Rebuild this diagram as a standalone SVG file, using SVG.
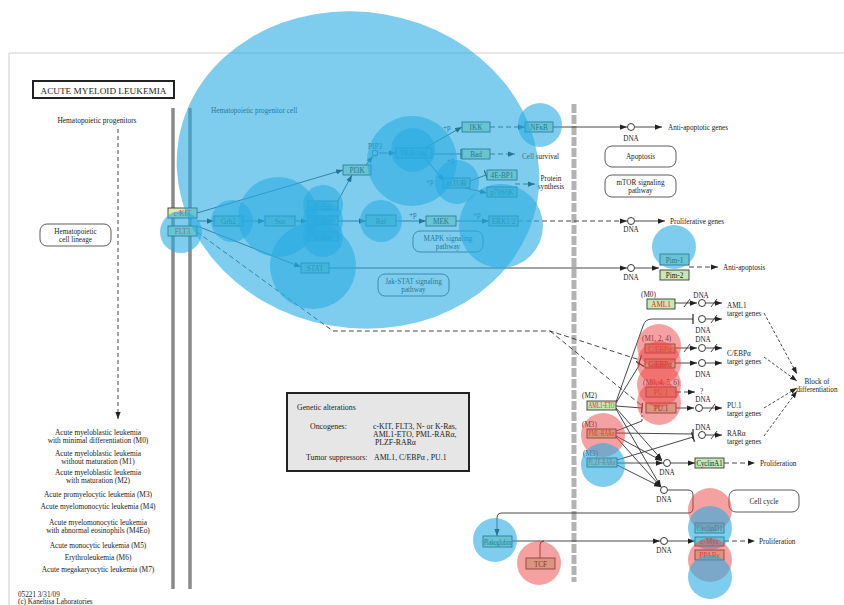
<svg xmlns="http://www.w3.org/2000/svg" width="844" height="605" viewBox="0 0 844 605">
<defs>
<style>
text{font-family:"Liberation Serif","Times New Roman",serif;font-size:7.2px;fill:#222}
.c{text-anchor:middle}
.r{fill:#e0261e}
.bx{fill:#c4e9b4;stroke:#3a3a3a;stroke-width:0.9}
.pw{fill:#fff;stroke:#333;stroke-width:0.8}
.ln{fill:none;stroke:#333;stroke-width:0.9}
.d{stroke-dasharray:5,3}
.dna{fill:#fff;stroke:#222;stroke-width:0.9}
.ob{fill:#29abe2;fill-opacity:0.6}
.or{fill:#ee4444;fill-opacity:0.5}
.mem{stroke:#8a8a8a;stroke-width:3.5}
.lt{font-size:7.4px}
.ga{font-size:7.8px}
</style>
<marker id="a" viewBox="0 0 8 6" refX="8" refY="3" markerWidth="7" markerHeight="5.5" orient="auto" markerUnits="userSpaceOnUse"><path d="M0,0L8,3L0,6z" fill="#222"/></marker>
<marker id="b" viewBox="0 0 2 10" refX="1" refY="5" markerWidth="2" markerHeight="10" orient="auto" markerUnits="userSpaceOnUse"><path d="M1,0V10" stroke="#222" stroke-width="1.2"/></marker>
</defs>
<rect width="844" height="605" fill="#fff"/>
<path d="M9,605V53H844" fill="none" stroke="#cfcfcf" stroke-width="1"/>

<g id="title"><rect x="33" y="81" width="141" height="17" fill="#fff" stroke="#222" stroke-width="2"/><text x="103.5" y="93.5" class="c" font-size="9.5" textLength="126" lengthAdjust="spacingAndGlyphs">ACUTE MYELOID LEUKEMIA</text></g>

<g id="membranes">
<line x1="173" y1="108" x2="173" y2="589" class="mem"/>
<line x1="190" y1="108" x2="190" y2="589" class="mem"/>
<line x1="574" y1="104" x2="574" y2="582" stroke="#b3b3b3" stroke-width="5" stroke-dasharray="9,2"/>
</g>

<g id="left-panel">
<text x="97" y="123" class="c lt">Hematopoietic progenitors</text>
<line x1="118" y1="129" x2="118" y2="419" class="ln" stroke-dasharray="4,3" marker-end="url(#a)"/>
<g id="n-lineage"><rect x="40" y="224" width="71" height="22" rx="7" class="pw"/><text x="75.5" y="234" class="c">Hematopoietic</text><text x="75.5" y="242" class="c">cell lineage</text></g>
<text x="98" y="434.5" class="c lt">Acute myeloblastic leukemia</text>
<text x="98" y="442.5" class="c lt">with minimal differentiation (M0)</text>
<text x="98" y="455.5" class="c lt">Acute myeloblastic leukemia</text>
<text x="98" y="463.5" class="c lt">without maturation (M1)</text>
<text x="98" y="474.5" class="c lt">Acute myeloblastic leukemia</text>
<text x="98" y="482.5" class="c lt">with maturation (M2)</text>
<text x="98" y="497" class="c lt">Acute promyelocytic leukemia (M3)</text>
<text x="98" y="509" class="c lt">Acute myelomonocytic leukemia (M4)</text>
<text x="98" y="524.5" class="c lt">Acute myelomonocytic leukemia</text>
<text x="98" y="532.5" class="c lt">with abnormal eosinophils (M4Eo)</text>
<text x="98" y="548" class="c lt">Acute monocytic leukemia (M5)</text>
<text x="98" y="560" class="c lt">Erythroleukemia (M6)</text>
<text x="98" y="572" class="c lt">Acute megakaryocytic leukemia (M7)</text>
<text x="18" y="597">05221 3/31/09</text>
<text x="18" y="603.5">(c) Kanehisa Laboratories</text>
</g>

<text x="211" y="113" font-size="7.4">Hematopoietic progenitor cell</text>

<g id="connectors">
<path d="M197,213L343,170" class="ln" marker-end="url(#a)"/>
<path d="M197,221L214,221" class="ln" marker-end="url(#a)"/>
<path d="M243,221L265,221" class="ln" marker-end="url(#a)"/>
<path d="M295,221L308,221" class="ln" marker-end="url(#a)"/>
<path d="M338,221L366,221" class="ln" marker-end="url(#a)"/>
<path d="M333,210L352,175" class="ln" marker-end="url(#a)"/>
<path d="M366,165L373,156" class="ln" marker-end="url(#a)"/>
<path d="M379,153L396,153" class="ln" marker-end="url(#a)"/>
<path d="M425,148L462,127" class="ln" marker-end="url(#a)"/>
<path d="M432,154L461,154" class="ln" marker-end="url(#b)"/>
<path d="M425,158L444,181" class="ln" marker-end="url(#a)"/>
<path d="M470,181L486,175" class="ln" marker-end="url(#b)"/>
<path d="M465,188L487,193" class="ln" marker-end="url(#a)"/>
<path d="M490,127L525,127" class="ln d" marker-end="url(#a)"/>
<path d="M490,154L515,154" class="ln d" marker-end="url(#a)"/>
<path d="M515,184L535,184" class="ln d" marker-end="url(#a)"/>
<path d="M396,221L426,221" class="ln" marker-end="url(#a)"/>
<path d="M456,221L489,221" class="ln" marker-end="url(#a)"/>
<path d="M518,221L627,221" class="ln d" marker-end="url(#a)"/>
<path d="M635,221L665,221" class="ln" marker-end="url(#a)"/>
<path d="M553,127L627,127" class="ln" marker-end="url(#a)"/>
<path d="M635,127L662,127" class="ln" marker-end="url(#a)"/>
<path d="M197,226L301,267" class="ln" marker-end="url(#a)"/>
<path d="M329,268L627,268" class="ln" marker-end="url(#a)"/>
<path d="M635,268L659,268" class="ln" marker-end="url(#a)"/>
<path d="M689,267L718,267" class="ln d" marker-end="url(#a)"/>
<path d="M197,232L333,331L550,331L640,360" class="ln d" marker-end="url(#b)"/>
<path d="M550,331L641,405" class="ln d"/>
<path d="M675,303L697,303" class="ln" marker-end="url(#a)"/>
<path d="M706,303L722,303" class="ln" marker-end="url(#a)"/>
<path d="M616,402L643,326Q645,319 652,319L693,319" class="ln" marker-end="url(#b)"/>
<path d="M706,319L722,319" class="ln" marker-end="url(#a)"/>
<path d="M675,348L697,348" class="ln" marker-end="url(#a)"/>
<path d="M706,348L722,348" class="ln" marker-end="url(#a)"/>
<path d="M675,363L697,363" class="ln" marker-end="url(#a)"/>
<path d="M706,363L722,363" class="ln" marker-end="url(#a)"/>
<path d="M676,392L695,392" class="ln d" marker-end="url(#a)"/>
<path d="M676,408L694,408" class="ln" marker-end="url(#a)"/>
<path d="M703,408L722,408" class="ln" marker-end="url(#a)"/>
<path d="M616,403L640,364" class="ln" marker-end="url(#b)"/>
<path d="M616,406L642,408" class="ln" marker-end="url(#b)"/>
<path d="M616,431L642,421" class="ln"/>
<path d="M642,421L642,413" class="ln" stroke-dasharray="2,2"/>
<path d="M616,433L693,434" class="ln" marker-end="url(#b)"/>
<path d="M617,460L693,437" class="ln" marker-end="url(#b)"/>
<path d="M706,435L722,435" class="ln" marker-end="url(#a)"/>
<path d="M616,408L662,460" class="ln" marker-end="url(#a)"/>
<path d="M616,409L661,487" class="ln" marker-end="url(#a)"/>
<path d="M616,436L662,461" class="ln" marker-end="url(#a)"/>
<path d="M616,437L661,487" class="ln" marker-end="url(#a)"/>
<path d="M617,463L663,463" class="ln" marker-end="url(#a)"/>
<path d="M617,465L661,487" class="ln" marker-end="url(#a)"/>
<path d="M671,463L695,463" class="ln" marker-end="url(#a)"/>
<path d="M724,463L755,463" class="ln d" marker-end="url(#a)"/>
<path d="M668,490L688,490Q693,490 693,495L693,508Q693,513 688,513L502,513Q497,513 497,518L497,536" class="ln" marker-end="url(#a)"/>
<path d="M512,541L660,541" class="ln" marker-end="url(#a)"/>
<path d="M540,558L540,545Q540,541 544,541" class="ln"/>
<path d="M668,541L695,541" class="ln" marker-end="url(#a)"/>
<path d="M724,541L755,541" class="ln d" marker-end="url(#a)"/>
<path d="M764,313L797,374" class="ln" stroke-dasharray="3,2" marker-end="url(#a)"/>
<path d="M764,357L797,381" class="ln" stroke-dasharray="3,2" marker-end="url(#a)"/>
<path d="M764,408L797,388" class="ln" stroke-dasharray="3,2" marker-end="url(#a)"/>
<path d="M764,436L797,391" class="ln" stroke-dasharray="3,2" marker-end="url(#a)"/>
<g class="ln"><path d="M684,307L690,299M711,307L717,299M711,323L717,315M684,352L690,344M711,352L717,344M709,412L715,404M711,439L717,431"/></g>
</g>

<g id="dna">
<circle cx="375" cy="153" r="2.8" class="dna"/>
<circle cx="631" cy="127" r="3.5" class="dna"/>
<circle cx="631" cy="221" r="3.5" class="dna"/>
<circle cx="631" cy="268" r="3.5" class="dna"/>
<circle cx="702" cy="303" r="3.5" class="dna"/>
<circle cx="702" cy="319" r="3.5" class="dna"/>
<circle cx="702" cy="348" r="3.5" class="dna"/>
<circle cx="702" cy="363" r="3.5" class="dna"/>
<circle cx="699" cy="408" r="3.5" class="dna"/>
<circle cx="702" cy="435" r="3.5" class="dna"/>
<circle cx="667" cy="463" r="3.5" class="dna"/>
<circle cx="664" cy="490" r="3.5" class="dna"/>
<circle cx="664" cy="541" r="3.5" class="dna"/>
<text x="368" y="149">PIP3</text>
<text x="631" y="141" class="c">DNA</text>
<text x="631" y="232" class="c">DNA</text>
<text x="631" y="280" class="c">DNA</text>
<text x="701" y="298" class="c">DNA</text>
<text x="703" y="333" class="c">DNA</text>
<text x="703" y="342" class="c">DNA</text>
<text x="703" y="377" class="c">DNA</text>
<text x="703" y="402" class="c">DNA</text>
<text x="703" y="430" class="c">DNA</text>
<text x="667" y="475" class="c">DNA</text>
<text x="664" y="502" class="c">DNA</text>
<text x="664" y="553" class="c">DNA</text>
</g>

<g id="labels">
<text x="443" y="130">+p</text>
<text x="447" y="163">+p</text>
<text x="426" y="184">+p</text>
<text x="409" y="217">+p</text>
<text x="473" y="217">+p</text>
<text x="522" y="159">Cell survival</text>
<text x="551" y="181" class="c">Protein</text>
<text x="551" y="189" class="c">synthesis</text>
<text x="668" y="130">Anti-apoptotic genes</text>
<text x="670" y="224">Proliferative genes</text>
<text x="723" y="270">Anti-apoptosis</text>
<text x="641" y="297">(M0)</text>
<text x="642" y="341">(M1, 2, 4)</text>
<text x="643" y="385">(M0, 4, 5, 6)</text>
<text x="582" y="398">(M2)</text>
<text x="582" y="427">(M3)</text>
<text x="583" y="456">(M3)</text>
<text x="700" y="394">?</text>
<text x="727" y="308">AML1</text><text x="727" y="316">target genes</text>
<text x="727" y="356">C/EBPα</text><text x="727" y="364">target genes</text>
<text x="727" y="408">PU.1</text><text x="727" y="416">target genes</text>
<text x="727" y="436">RARα</text><text x="727" y="444">target genes</text>
<text x="817" y="384" class="c">Block of</text>
<text x="817" y="392" class="c">differentiation</text>
<text x="760" y="466">Proliferation</text>
<text x="759" y="544">Proliferation</text>
</g>

<g id="pathways">
<g id="n-apoptosis"><rect x="605" y="146" width="71" height="21" rx="7" class="pw"/><text x="640.5" y="159" class="c">Apoptosis</text></g>
<g id="n-mtorpw"><rect x="605" y="175" width="71" height="22" rx="7" class="pw"/><text x="640.5" y="185" class="c">mTOR signaling</text><text x="640.5" y="193" class="c">pathway</text></g>
<g id="n-mapkpw"><rect x="413" y="231" width="70" height="21" rx="7" class="pw"/><text x="448" y="241" class="c">MAPK signaling</text><text x="448" y="249" class="c">pathway</text></g>
<g id="n-jakpw"><rect x="378" y="274" width="71" height="22" rx="7" class="pw"/><text x="413.5" y="284" class="c">Jak-STAT signaling</text><text x="413.5" y="292" class="c">pathway</text></g>
<g id="n-cellcycle"><rect x="729" y="490" width="70" height="22" rx="7" class="pw"/><text x="764" y="504" class="c">Cell cycle</text></g>
</g>

<g id="n-genetic">
<rect x="287" y="393" width="182" height="78" fill="#e6e6e6" stroke="#222" stroke-width="2"/>
<text x="297" y="410" class="ga">Genetic alterations</text>
<text x="310" y="429" class="ga">Oncogenes:</text>
<text x="373" y="429" class="ga">c-KIT, FLT3, N- or K-Ras,</text>
<text x="373" y="437" class="ga">AML1-ETO, PML-RARα,</text>
<text x="375" y="445" class="ga">PLZF-RARα</text>
<text x="306" y="460" class="ga">Tumor suppressors:</text>
<text x="374" y="460" class="ga">AML1, C/EBPα , PU.1</text>
</g>

<g id="nodes" font-size="6.7">
<g id="n-ckit"><rect x="168" y="208" width="29" height="10" class="bx" style="fill:#dcebb0"/><text x="182.5" y="216" class="c r" font-size="6.7">c-KIT</text></g>
<g id="n-flt3"><rect x="168" y="226" width="29" height="10" class="bx"/><text x="182.5" y="234" class="c r" font-size="6.7">FLT3</text></g>
<g id="n-grb2"><rect x="214" y="216" width="29" height="10" class="bx"/><text x="228.5" y="224" class="c" font-size="6.7">Grb2</text></g>
<g id="n-sos"><rect x="265" y="216" width="30" height="10" class="bx"/><text x="280" y="224" class="c" font-size="6.7">Sos</text></g>
<g id="n-nras"><rect x="308" y="201" width="30" height="9" class="bx"/><text x="323" y="208.5" class="c" font-size="6.7">N-Ras</text></g>
<g id="n-hras"><rect x="308" y="216" width="30" height="9" class="bx"/><text x="323" y="223.5" class="c" font-size="6.7">H-Ras</text></g>
<g id="n-kras"><rect x="308" y="232" width="30" height="9" class="bx"/><text x="323" y="239.5" class="c" font-size="6.7">K-Ras</text></g>
<g id="n-raf"><rect x="366" y="215" width="30" height="11" class="bx"/><text x="381" y="223.5" class="c" font-size="6.7">Raf</text></g>
<g id="n-pi3k"><rect x="343" y="165" width="28" height="10" class="bx"/><text x="357" y="173" class="c" font-size="6.7">PI3K</text></g>
<g id="n-pkb"><rect x="396" y="148" width="36" height="10" class="bx"/><text x="414" y="156" class="c" font-size="6.7">PKB/Akt</text></g>
<g id="n-ikk"><rect x="462" y="122" width="28" height="10" class="bx"/><text x="476" y="130" class="c" font-size="6.7">IKK</text></g>
<g id="n-bad"><rect x="462" y="149" width="28" height="10" class="bx"/><text x="476" y="157" class="c" font-size="6.7">Bad</text></g>
<g id="n-mtor"><rect x="443" y="178" width="27" height="10" class="bx"/><text x="456.5" y="186" class="c" font-size="6.7">mTOR</text></g>
<g id="n-4ebp1"><rect x="487" y="170" width="30" height="10" class="bx"/><text x="502" y="178" class="c" font-size="6.7">4E-BP1</text></g>
<g id="n-p70s6k"><rect x="487" y="187" width="30" height="10" class="bx"/><text x="502" y="195" class="c" font-size="6.7">p70S6K</text></g>
<g id="n-mek"><rect x="426" y="216" width="30" height="10" class="bx"/><text x="441" y="224" class="c" font-size="6.7">MEK</text></g>
<g id="n-erk"><rect x="489" y="216" width="29" height="10" class="bx"/><text x="503.5" y="224" class="c" font-size="6.7">ERK1/2</text></g>
<g id="n-stat"><rect x="301" y="263" width="28" height="10" class="bx"/><text x="315" y="271" class="c" font-size="6.7">STAT</text></g>
<g id="n-nfkb"><rect x="525" y="122" width="28" height="10" class="bx"/><text x="539" y="130" class="c" font-size="6.7">NFκB</text></g>
<g id="n-pim1"><rect x="660" y="254" width="29" height="11" class="bx"/><text x="674.5" y="262.5" class="c" font-size="6.7">Pim-1</text></g>
<g id="n-pim2"><rect x="660" y="270" width="29" height="10" class="bx"/><text x="674.5" y="278" class="c" font-size="6.7">Pim-2</text></g>
<g id="n-aml1"><rect x="647" y="299" width="28" height="10" class="bx"/><text x="661" y="307" class="c r" font-size="6.7">AML1</text></g>
<g id="n-cebpa1"><rect x="645" y="344" width="30" height="9" class="bx"/><text x="660" y="351.5" class="c r" font-size="6.7">C/EBPα</text></g>
<g id="n-cebpa2"><rect x="645" y="359" width="30" height="9" class="bx"/><text x="660" y="366.5" class="c" font-size="6.7">C/EBPα</text></g>
<g id="n-pu1a"><rect x="646" y="387" width="30" height="10" class="bx"/><text x="661" y="395" class="c r" font-size="6.7">PU.1</text></g>
<g id="n-pu1b"><rect x="646" y="403" width="30" height="10" class="bx"/><text x="661" y="411" class="c" font-size="6.7">PU.1</text></g>
<g id="n-amleto"><rect x="587" y="401" width="29" height="9" class="bx"/><text x="601.5" y="408.3" class="c r" font-size="6.7" textLength="26" lengthAdjust="spacingAndGlyphs">AML1-ETO</text></g>
<g id="n-pmlrara"><rect x="587" y="429" width="29" height="9" class="bx"/><text x="601.5" y="436.3" class="c r" font-size="6.7" textLength="26" lengthAdjust="spacingAndGlyphs">PML-RARα</text></g>
<g id="n-plzfrara"><rect x="587" y="458" width="30" height="9" class="bx"/><text x="602" y="465.3" class="c r" font-size="6.7" textLength="27" lengthAdjust="spacingAndGlyphs">PLZF-RARα</text></g>
<g id="n-cyclina1"><rect x="695" y="458" width="29" height="10" class="bx"/><text x="709.5" y="466" class="c" font-size="6.7" textLength="26" lengthAdjust="spacingAndGlyphs">CyclinA1</text></g>
<g id="n-cyclind1"><rect x="695" y="523" width="29" height="10" class="bx"/><text x="709.5" y="531" class="c" font-size="6.7" textLength="26" lengthAdjust="spacingAndGlyphs">CyclinD1</text></g>
<g id="n-cmyc"><rect x="695" y="537" width="29" height="9" class="bx"/><text x="709.5" y="544.3" class="c" font-size="6.7">c-Myc</text></g>
<g id="n-pparg"><rect x="695" y="550" width="29" height="10" class="bx"/><text x="709.5" y="558" class="c r" font-size="6.7">PPARγ</text></g>
<g id="n-plakoglobin"><rect x="483" y="536" width="29" height="11" class="bx"/><text x="497.5" y="544.5" class="c" font-size="6.7" textLength="27" lengthAdjust="spacingAndGlyphs">Plakoglobin</text></g>
<g id="n-tcf"><rect x="526" y="558" width="29" height="11" class="bx"/><text x="540.5" y="566.5" class="c" font-size="6.7">TCF</text></g>
</g>

<g id="overlays">
<ellipse cx="358" cy="170" rx="182" ry="158" transform="rotate(10 358 170)" class="ob"/>
<circle cx="181" cy="232" r="21" class="ob"/>
<circle cx="232" cy="221" r="21" class="ob"/>
<circle cx="278" cy="217" r="40" class="ob"/>
<circle cx="323" cy="205" r="20" class="ob"/>
<circle cx="323" cy="221" r="20" class="ob"/>
<circle cx="323" cy="237" r="20" class="ob"/>
<circle cx="313" cy="266" r="43" class="ob"/>
<circle cx="381" cy="221" r="21" class="ob"/>
<circle cx="412" cy="161" r="45" class="ob"/>
<circle cx="413" cy="150" r="22" class="ob"/>
<circle cx="457" cy="182" r="22" class="ob"/>
<circle cx="540" cy="125" r="22" class="ob"/>
<circle cx="501" cy="226" r="42" class="ob"/>
<circle cx="674" cy="247" r="22" class="ob"/>
<circle cx="659" cy="346" r="22" class="or"/>
<circle cx="659" cy="363" r="22" class="or"/>
<circle cx="659" cy="385" r="22" class="or"/>
<circle cx="659" cy="403" r="22" class="or"/>
<circle cx="603" cy="435" r="22" class="or"/>
<circle cx="603" cy="465" r="22" class="ob"/>
<circle cx="710" cy="510" r="22" class="or"/>
<circle cx="710" cy="528" r="22" class="ob"/>
<circle cx="710" cy="560" r="22" class="or"/>
<circle cx="710" cy="577" r="22" class="ob"/>
<circle cx="495" cy="540" r="22" class="ob"/>
<circle cx="539" cy="563" r="22" class="or"/>
</g>
</svg>
